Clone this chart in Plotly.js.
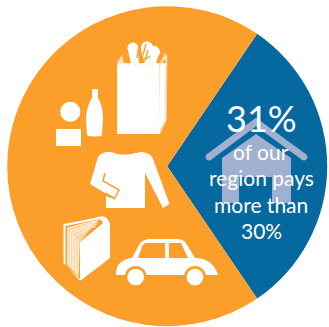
<!DOCTYPE html>
<html>
<head>
<meta charset="utf-8">
<script src="https://cdn.plot.ly/plotly-3.0.1.min.js"></script>
<style>html,body{margin:0;padding:0;background:#fff}</style>
</head>
<body>
<div id="chart" style="width:329px;height:327px"></div>
<script>
// Share of households by housing cost burden
const shareLabels = ['Pays more than 30%', 'Pays 30% or less'];
const shareValues = [31, 69];
const shareColors = ['#05699f', '#fc9e2a'];
const headline = '31%';
const captionLines = ['of our', 'region pays', 'more than', '30%'];

const W = 329, H = 327;
const ORANGE = '#fc9e2a', HOUSE = '#a0b0d0', PEACH = '#fde0bd', NONE = 'rgba(0,0,0,0)';

// Icon outlines are authored in pixels and converted to paper fractions.
function toPaper(d) {
  let isX = true;
  return d.replace(/[A-Za-z]|-?\d+(\.\d+)?/g, t => {
    if (/[A-Za-z]/.test(t)) { isX = true; return t; }
    const v = parseFloat(t);
    const out = isX ? v / W : 1 - v / H;
    isX = !isX;
    return out.toFixed(5);
  });
}
function icon(d, fill, line, width) {
  return {
    type: 'path', xref: 'paper', yref: 'paper', layer: 'above',
    path: toPaper(d),
    fillcolor: fill || NONE,
    line: { color: line || NONE, width: width || 0 }
  };
}
function disc(cx, cy, r, fill) {
  const k = r * 0.5523;
  return icon(`M${cx - r},${cy} C${cx - r},${cy - k} ${cx - k},${cy - r} ${cx},${cy - r} C${cx + k},${cy - r} ${cx + r},${cy - k} ${cx + r},${cy} C${cx + r},${cy + k} ${cx + k},${cy + r} ${cx},${cy + r} C${cx - k},${cy + r} ${cx - r},${cy + k} ${cx - r},${cy} Z`, fill);
}

const shapes = [
  // Groceries: bag, produce, bottle, round and boxed goods
  icon('M117,63 L122,55 L165,53 L167.3,56 L166.7,120 L160,134 Z', PEACH),
  icon('M160,64 L165,57 L165,119 L160,129 Z', '#fff'),
  icon('M122,55 L165,53 L165,63 L122,63 Z', ORANGE),
  icon('M117,63 L122,55 L124,63 Z', PEACH),
  icon('M160,63 L165,53 L167,56 L160,66 Z', PEACH),
  disc(133, 48, 5.6, '#fff'),
  disc(147, 47.5, 6, '#fff'),
  disc(154, 52, 6, '#fff'),
  icon('M128,50 L138,50 L139,64 L131,64 Z', '#fff'),
  icon('M141,50 L159,52 L156,64 L145,64 Z', '#fff'),
  icon('M139,44 L137,58 M146,44 L143,55 M148,50 L145,60 L150,56', NONE, ORANGE, 1.3),
  icon('M117,65 L120,63 L123,65 L126,63 L129,65 L132,63 L135,65 L138,63 L141,65 L144,63 L147,65 L150,63 L153,65 L156,63 L159,65 L160,134 L117,134 Z', '#fff'),
  icon('M92,89 L98,89 L98,98 C102,104 103,112 103,120 L102,135 C101,137 88,137 87,135 L86,120 C86,112 88,104 92,98 Z', '#fff'),
  disc(70.3, 111.7, 10, '#fff'),
  icon('M56,129 L81,129 L81,146 L56,146 Z', '#fff'),

  // Long-sleeved shirt
  icon('M98,157 C101,153 105,152 110,152 C120,154 134,154 140,152 C146,152 151,154 153,159 L169.5,204 L163,208 L145,173 L145,208 L106,208 L106,196 L116,200 L90,184 Z', '#fff'),
  icon('M105,173 L103,181 L119,190 L114.5,198.5 L105,193', NONE, ORANGE, 1.5),
  icon('M114,153 C118,155 130,155 134,153 C130,152 118,152 114,153 Z', ORANGE),

  // Book: cover, spine strip and fanned pages
  icon('M63.5,224 C75,222 90,219 98,217 C103,215 108,217 110,224 L110,258 L80,281 L63.5,263 Z', '#fff'),
  icon('M65.5,226 L98,219.5 C100,219 102,220 103,223 L80,242 L80,279 L65.5,266 Z', ORANGE),
  icon('M67,228 L97,221 L80,242 L78.5,277 L67,265 Z', '#fdd4a0'),
  icon('M68,228 L68,265 M70.5,231 L70.5,268 M73,233 L73,270.5 M75.5,236 L75.5,273 M78,239 L78,276 M68,228 C78,225 90,222 98,220.5 M70.5,231 C80,228 90,224 98,222 M73,233 C82,230 90,226 97,224 M75.5,236 C83,232 90,228 96,226', NONE, '#fff', 0.9),

  // Car with windows and wheels
  icon('M116,275 C116,270 117,266 119,264 C123,260 128,258 132,258 L139,245 C141,241 146,239 151,239 L176,239 C180,239 184,240 186,243 L195,258 C205,258 214,262 218,275 Z', '#fff'),
  icon('M138,258 L142,247 C143,244 145,243 148,243 L165,243 L165,258 Z', ORANGE),
  icon('M169,243 L181,243 L188,258 L169,258 Z', ORANGE),
  disc(135.7, 277, 11, ORANGE),
  disc(195, 277, 11, ORANGE),
  disc(135.7, 277, 8.3, '#fff'),
  disc(195, 277, 8.3, '#fff'),

  // House behind the caption
  icon('M222,158 L256,134 L291,158 L291,203 L272,203 L272,177 L239,177 L239,203 L222,203 Z', HOUSE),
  icon('M209,157 L256,122 L304,157', NONE, HOUSE, 7),
  disc(209, 157, 3.5, HOUSE),
  disc(304, 157, 3.5, HOUSE)
];

const annotations = [
  { text: headline, y: 117.5, size: 36, weight: 400 }
].concat(captionLines.map((t, i) => ({ text: t, y: 151.5 + i * 26.4, size: 21, weight: 400 }))).map(a => ({
  text: a.text, xref: 'paper', yref: 'paper',
  x: 261 / W, y: 1 - a.y / H, xanchor: 'center', yanchor: 'middle', showarrow: false,
  font: { family: 'Lato, sans-serif', size: a.size, weight: a.weight, color: '#ffffff' }
}));

const cx = 167.2, cy = 166.2, r = 160;
Plotly.newPlot('chart', [{
  type: 'pie',
  labels: shareLabels,
  values: shareValues,
  marker: { colors: shareColors, line: { width: 0 } },
  sort: false,
  direction: 'clockwise',
  rotation: 34.2,
  textinfo: 'none',
  hoverinfo: 'label+percent',
  domain: { x: [(cx - r) / W, (cx + r) / W], y: [1 - (cy + r) / H, 1 - (cy - r) / H] }
}], {
  width: W, height: H,
  margin: { l: 0, r: 0, t: 0, b: 0 },
  paper_bgcolor: '#fff',
  showlegend: false,
  shapes, annotations
}, { displayModeBar: false, staticPlot: true });
</script>
</body>
</html>
